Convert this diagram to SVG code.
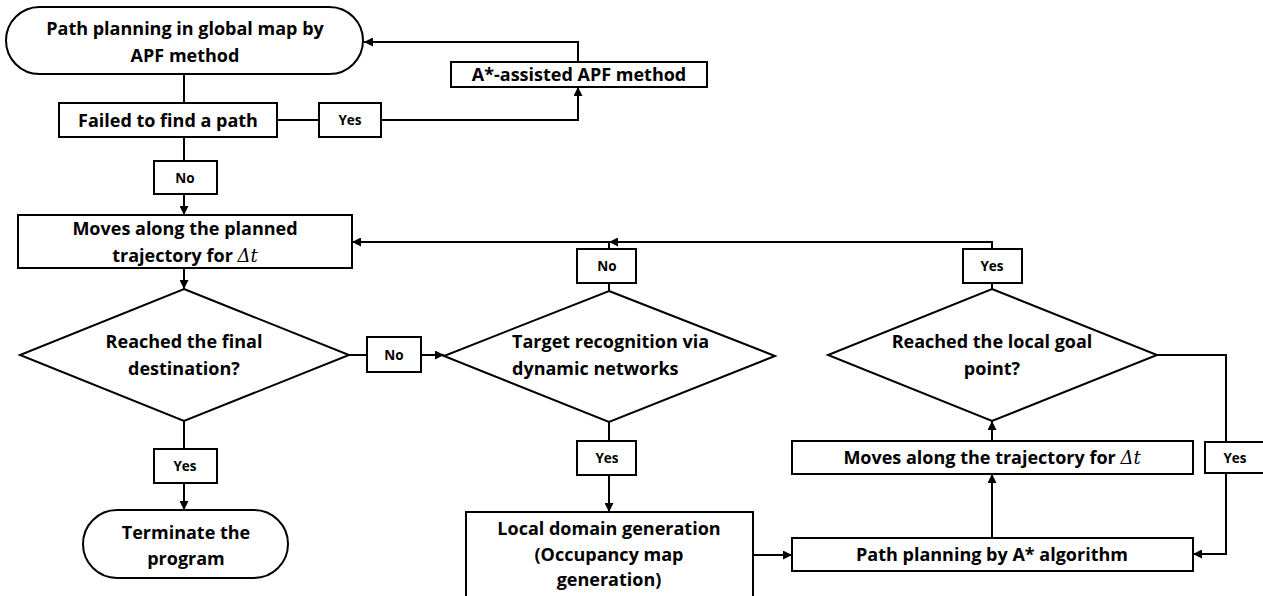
<svg xmlns="http://www.w3.org/2000/svg" width="1263" height="596" viewBox="0 0 1263 596">
<style>
.box{fill:#fff;stroke:#000;stroke-width:2}
.t{font-family:"Open Sans","Liberation Sans",sans-serif;font-weight:bold;font-size:18px;fill:#000;text-anchor:middle}
.s{font-family:"Open Sans","Liberation Sans",sans-serif;font-weight:bold;font-size:13.5px;fill:#000;text-anchor:middle}
.m{font-family:"DejaVu Serif","Liberation Serif",serif;font-style:italic;font-weight:normal}
.c{fill:none;stroke:#000;stroke-width:2}
</style>
<defs>
<marker id="ah" viewBox="0 0 10 10" refX="10" refY="5" markerUnits="userSpaceOnUse" markerWidth="10" markerHeight="9" orient="auto">
<path d="M0,0 L10,5 L0,10 z" fill="#000"/>
</marker>
</defs>
<rect width="1263" height="596" fill="#fff"/>
<g id="connectors">
<path class="c" d="M184,74 V103"/>
<path class="c" d="M277,120 H319"/>
<path class="c" d="M381,120 H578 V87" marker-end="url(#ah)"/>
<path class="c" d="M578,62 V42 H364" marker-end="url(#ah)"/>
<path class="c" d="M184,137 V161"/>
<path class="c" d="M184,194 V215" marker-end="url(#ah)"/>
<path class="c" d="M184,268 V289" marker-end="url(#ah)"/>
<path class="c" d="M349,355 H367"/>
<path class="c" d="M421,355 H444" marker-end="url(#ah)"/>
<path class="c" d="M184,421 V449"/>
<path class="c" d="M184,483 V510" marker-end="url(#ah)"/>
<path class="c" d="M609,291 V283"/>
<path class="c" d="M609,249 V242 H352" marker-end="url(#ah)"/>
<path class="c" d="M992,249 V242 H609" marker-end="url(#ah)"/>
<path class="c" d="M609,422 V441"/>
<path class="c" d="M609,475 V512" marker-end="url(#ah)"/>
<path class="c" d="M753,555 H792" marker-end="url(#ah)"/>
<path class="c" d="M992,538 V474" marker-end="url(#ah)"/>
<path class="c" d="M992,441 V421" marker-end="url(#ah)"/>
<path class="c" d="M992,289 V283"/>
<path class="c" d="M1157,355 H1226 V442"/>
<path class="c" d="M1226,473 V554 H1193" marker-end="url(#ah)"/>
</g>
<g id="start">
<rect class="box" x="6" y="7" width="357" height="67" rx="33.5" ry="33.5"/>
<text class="t" x="185" y="35">Path planning in global map by</text>
<text class="t" x="185" y="62">APF method</text>
</g>
<g id="astar-apf">
<rect class="box" x="451" y="62" width="256" height="25"/>
<text class="t" x="579" y="81">A*-assisted APF method</text>
</g>
<g id="failed">
<rect class="box" x="59" y="103" width="218" height="34"/>
<text class="t" x="168" y="127">Failed to find a path</text>
</g>
<g id="lbl-yes1">
<rect class="box" x="319" y="103" width="62" height="34"/>
<text class="s" x="350" y="125">Yes</text>
</g>
<g id="lbl-no1">
<rect class="box" x="154" y="161" width="63" height="33"/>
<text class="s" x="185" y="183">No</text>
</g>
<g id="moves-global">
<rect class="box" x="18" y="215" width="334" height="53"/>
<text class="t" x="185" y="235">Moves along the planned</text>
<text class="t" x="185" y="262">trajectory for <tspan class="m">Δt</tspan></text>
</g>
<g id="final-dest">
<polygon class="box" points="184,289 349,355 184,421 20,355"/>
<text class="t" x="184" y="348">Reached the final</text>
<text class="t" x="184" y="375">destination?</text>
</g>
<g id="lbl-no2">
<rect class="box" x="367" y="337" width="54" height="35"/>
<text class="s" x="394" y="360">No</text>
</g>
<g id="lbl-yes2">
<rect class="box" x="154" y="449" width="63" height="34"/>
<text class="s" x="185" y="471">Yes</text>
</g>
<g id="terminate">
<rect class="box" x="83" y="510" width="205" height="68" rx="34" ry="34"/>
<text class="t" x="186" y="539">Terminate the</text>
<text class="t" x="186" y="565">program</text>
</g>
<g id="lbl-no3">
<rect class="box" x="577" y="249" width="59" height="34"/>
<text class="s" x="607" y="271">No</text>
</g>
<g id="target-rec">
<polygon class="box" points="609,291 775,356 609,422 444,356"/>
<text class="t" x="512" y="348" style="text-anchor:start">Target recognition via</text>
<text class="t" x="512" y="375" style="text-anchor:start">dynamic networks</text>
</g>
<g id="lbl-yes3">
<rect class="box" x="577" y="441" width="59" height="34"/>
<text class="s" x="607" y="463">Yes</text>
</g>
<g id="local-domain">
<rect class="box" x="466" y="512" width="287" height="100"/>
<text class="t" x="609" y="535">Local domain generation</text>
<text class="t" x="609" y="561">(Occupancy map</text>
<text class="t" x="609" y="586">generation)</text>
</g>
<g id="path-astar">
<rect class="box" x="792" y="538" width="401" height="33"/>
<text class="t" x="992" y="561">Path planning by A* algorithm</text>
</g>
<g id="moves-local">
<rect class="box" x="792" y="441" width="401" height="33"/>
<text class="t" x="992" y="464">Moves along the trajectory for <tspan class="m">Δt</tspan></text>
</g>
<g id="local-goal">
<polygon class="box" points="992,289 1157,355 992,421 828,355"/>
<text class="t" x="992" y="348">Reached the local goal</text>
<text class="t" x="992" y="375">point?</text>
</g>
<g id="lbl-yes4">
<rect class="box" x="963" y="249" width="59" height="34"/>
<text class="s" x="992" y="271">Yes</text>
</g>
<g id="lbl-yes5">
<rect class="box" x="1205" y="442" width="62" height="31"/>
<text class="s" x="1235" y="463">Yes</text>
</g>
</svg>
